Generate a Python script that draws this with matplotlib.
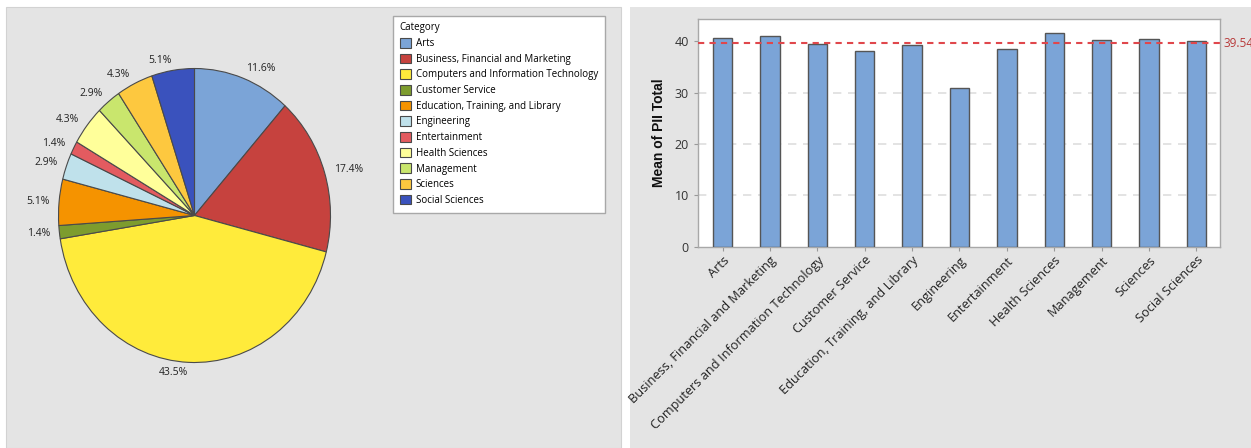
import matplotlib
matplotlib.use("Agg")
import matplotlib.pyplot as plt
from matplotlib.patches import Rectangle

plt.rcParams["font.family"] = ["Open Sans", "DejaVu Sans"]

# respondents per career category (percent labels come from these counts)
categories = ["Arts", "Business, Financial and Marketing",
              "Computers and Information Technology", "Customer Service",
              "Education, Training, and Library", "Engineering",
              "Entertainment", "Health Sciences", "Management", "Sciences",
              "Social Sciences"]
counts = [16, 24, 60, 2, 7, 4, 2, 6, 4, 6, 7]
pie_colors = ["#7ba4d7", "#c6423e", "#ffeb3b", "#7d9c2e", "#f59300",
              "#bfe1eb", "#e35b60", "#ffff9a", "#c9e66d", "#fdc83f",
              "#3a52bd"]

# mean PII total per category, overall mean as reference line
pii_mean = [40.6, 41.0, 39.4, 38.1, 39.3, 30.8, 38.5, 41.5, 40.2, 40.5, 40.0]
overall_mean = 39.54

W, H = 1251, 448
fig = plt.figure(figsize=(W / 100, H / 100), dpi=100)
fig.patch.set_facecolor("white")


def px_axes(x0, y0, x1, y1):
    """Axes from pixel box (top-left origin)."""
    return fig.add_axes([x0 / W, 1 - y1 / H, (x1 - x0) / W, (y1 - y0) / H])


# panel backgrounds
panel_gray = "#e4e4e4"
fig.add_artist(Rectangle((6 / W, 0), (621 - 6) / W, 1 - 7 / H,
                         transform=fig.transFigure, facecolor=panel_gray,
                         edgecolor="#d2d2d2", lw=0.8, zorder=0))
fig.add_artist(Rectangle((630 / W, 0), (W - 630) / W, 1 - 7 / H,
                         transform=fig.transFigure, facecolor=panel_gray,
                         edgecolor="none", zorder=0))

# ---------------------------------------------------------------- pie
axp = px_axes(58.5, 68.5, 330.5, 362.5)
wedges, texts, autotexts = axp.pie(
    counts, colors=pie_colors, startangle=90, counterclock=False,
    autopct="%.1f%%", pctdistance=1.07, radius=1.0,
    wedgeprops=dict(edgecolor="#4a4a4a", linewidth=0.8),
    textprops=dict(fontsize=7.5, color="#222222"))
for t in autotexts:
    x, y = t.get_position()
    t.set_ha("left" if x > 0 else "right")
    t.set_va("center")
axp.set_aspect("auto")
axp.set_xlim(-1, 1)
axp.set_ylim(-1, 1)
axp.axis("off")

leg = fig.legend(wedges, categories, title="Category",
                 loc="upper left",
                 bbox_to_anchor=(393 / W, 1 - 20 / H, (605 - 393) / W, 0.01),
                 mode="expand", fontsize=7, title_fontsize=7,
                 alignment="left", frameon=True, fancybox=False,
                 facecolor="white", framealpha=1.0,
                 edgecolor="#a8a8a8", borderpad=0.7, labelspacing=0.47,
                 handlelength=1.15, handleheight=1.15, handletextpad=0.5,
                 borderaxespad=0)
leg.get_frame().set_linewidth(1.0)

# ---------------------------------------------------------------- bars
axb = px_axes(698, 19, 1220, 246.7)
x = range(len(categories))
axb.bar(x, pii_mean, width=0.41, color="#7ba4d7", edgecolor="#555555",
        linewidth=1.0, zorder=3)
axb.set_xlim(-0.52, 10.5)
axb.set_ylim(0, 44.3)
axb.set_yticks([0, 10, 20, 30, 40])
axb.set_xticks(list(x))
axb.set_xticklabels(categories, rotation=45, ha="right",
                    rotation_mode="anchor", fontsize=9.2, color="#222222")
axb.tick_params(axis="y", labelsize=9, colors="#333333", length=3,
                color="#999999")
axb.tick_params(axis="x", length=3, color="#999999", pad=2)
for yv in [10, 20, 30]:
    axb.axhline(yv, color="#dedede", lw=1.2, ls=(0, (5, 4)), zorder=1)
for s in axb.spines.values():
    s.set_color("#a8a8a8")
    s.set_linewidth(1.0)
axb.axhline(overall_mean, xmin=0, xmax=1.005, color="#e0474c", lw=1.5,
            ls=(0, (3, 2.5)), zorder=4, clip_on=False)
axb.text(1.0065, overall_mean, f"{overall_mean:.2f}",
         transform=axb.get_yaxis_transform(), color="#b83a3a", fontsize=8.5,
         va="center", ha="left", clip_on=False)
axb.set_ylabel("Mean of PII Total", fontsize=10, fontweight="bold",
               family="Liberation Sans", color="#111111", labelpad=6)

fig.savefig("out.png", dpi=100, facecolor=fig.get_facecolor())
